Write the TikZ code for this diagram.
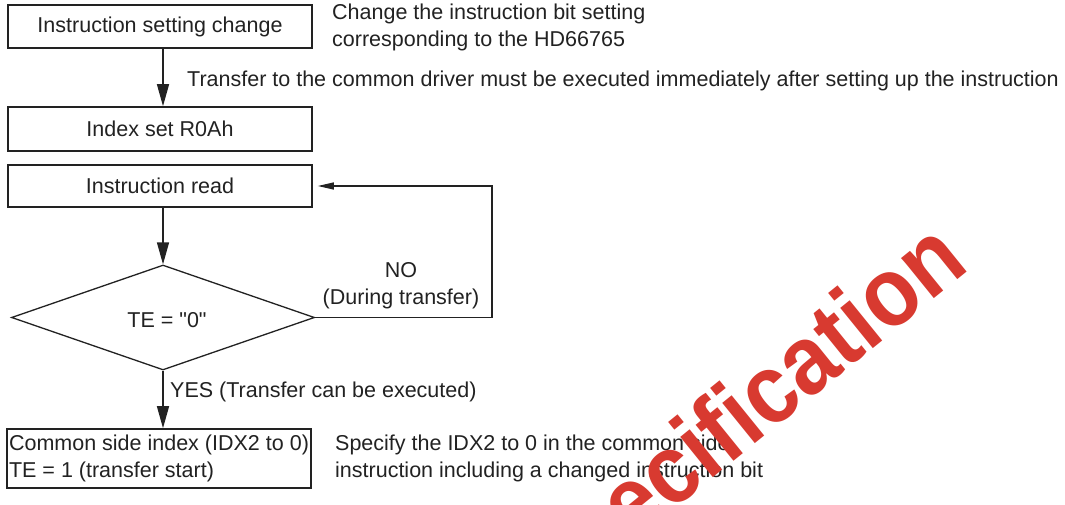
\documentclass[tikz,border=0pt]{standalone}
\usepackage{fontspec}
\setmainfont{Liberation Sans}[Ligatures=TeXOff]
\usetikzlibrary{arrows.meta,shapes.geometric}
\definecolor{ink}{HTML}{222222}
\definecolor{stamp}{RGB}{216,58,48}
\begin{document}
\begin{tikzpicture}[x=1pt,y=-1pt,
  every node/.style={font=\fontsize{21.5}{27}\selectfont, text=ink},
  box/.style={draw=ink, line width=1.6pt, minimum width=304pt, inner sep=0pt},
  flow/.style={draw=ink, line width=1.3pt, -{Triangle[length=22pt,width=12pt]}},
  back/.style={draw=ink, line width=1.3pt, -{Triangle[length=16pt,width=7pt]}},
  note/.style={anchor=west, align=left, inner sep=0pt}]
\useasboundingbox[fill=white] (0,0) rectangle (1065,505);

% process boxes and the decision
\node[box, minimum height=43pt] (b1) at (160,26.5) {Instruction setting change};
\node[box, minimum height=44pt] (b2) at (160,129) {Index set R0Ah};
\node[box, minimum height=42pt] (b3) at (160,186) {Instruction read};
\node[diamond, draw=ink, line width=1.3pt, minimum width=303pt, minimum height=105pt, inner sep=0pt] (d) at (163,317.5) {};
\node (dt) at (167,320) {TE = "0"};
\node[box, minimum height=59pt, align=left] (b4) at (159,458.5)
  {Common side index (IDX2 to 0)\\TE = 1 (transfer start)};

% side notes
\node[note] (n1) at (332,27.5) {Change the instruction bit setting\\corresponding to the HD66765};
\node[note] (n2) at (187,81) {Transfer to the common driver must be executed immediately after setting up the instruction};
\node[note] (n4) at (335,458.5) {Specify the IDX2 to 0 in the common side\\instruction including a changed instruction bit};
\node[align=center] (nol) at (401,286) {NO\\(During transfer)};
\node[note] (yes) at (170,392) {YES (Transfer can be executed)};

% connectors
\draw[flow] (b1.south -| d.north) -- (b2.north -| d.north);
\draw[flow] (b3.south -| d.north) -- (d.north);
\draw[flow] (d.south) -- (b4.north -| d.south);
\coordinate (k) at (492,317.5);
\draw[back, shorten >=5pt] (d.east) -- (k) |- (b3.east);

% stamp
\node[font=\fontsize{98}{98}\selectfont\bfseries, text=stamp, rotate=39, xscale=0.9, inner sep=0pt] (wm) at (742,422) {Specification};
\end{tikzpicture}
\end{document}
